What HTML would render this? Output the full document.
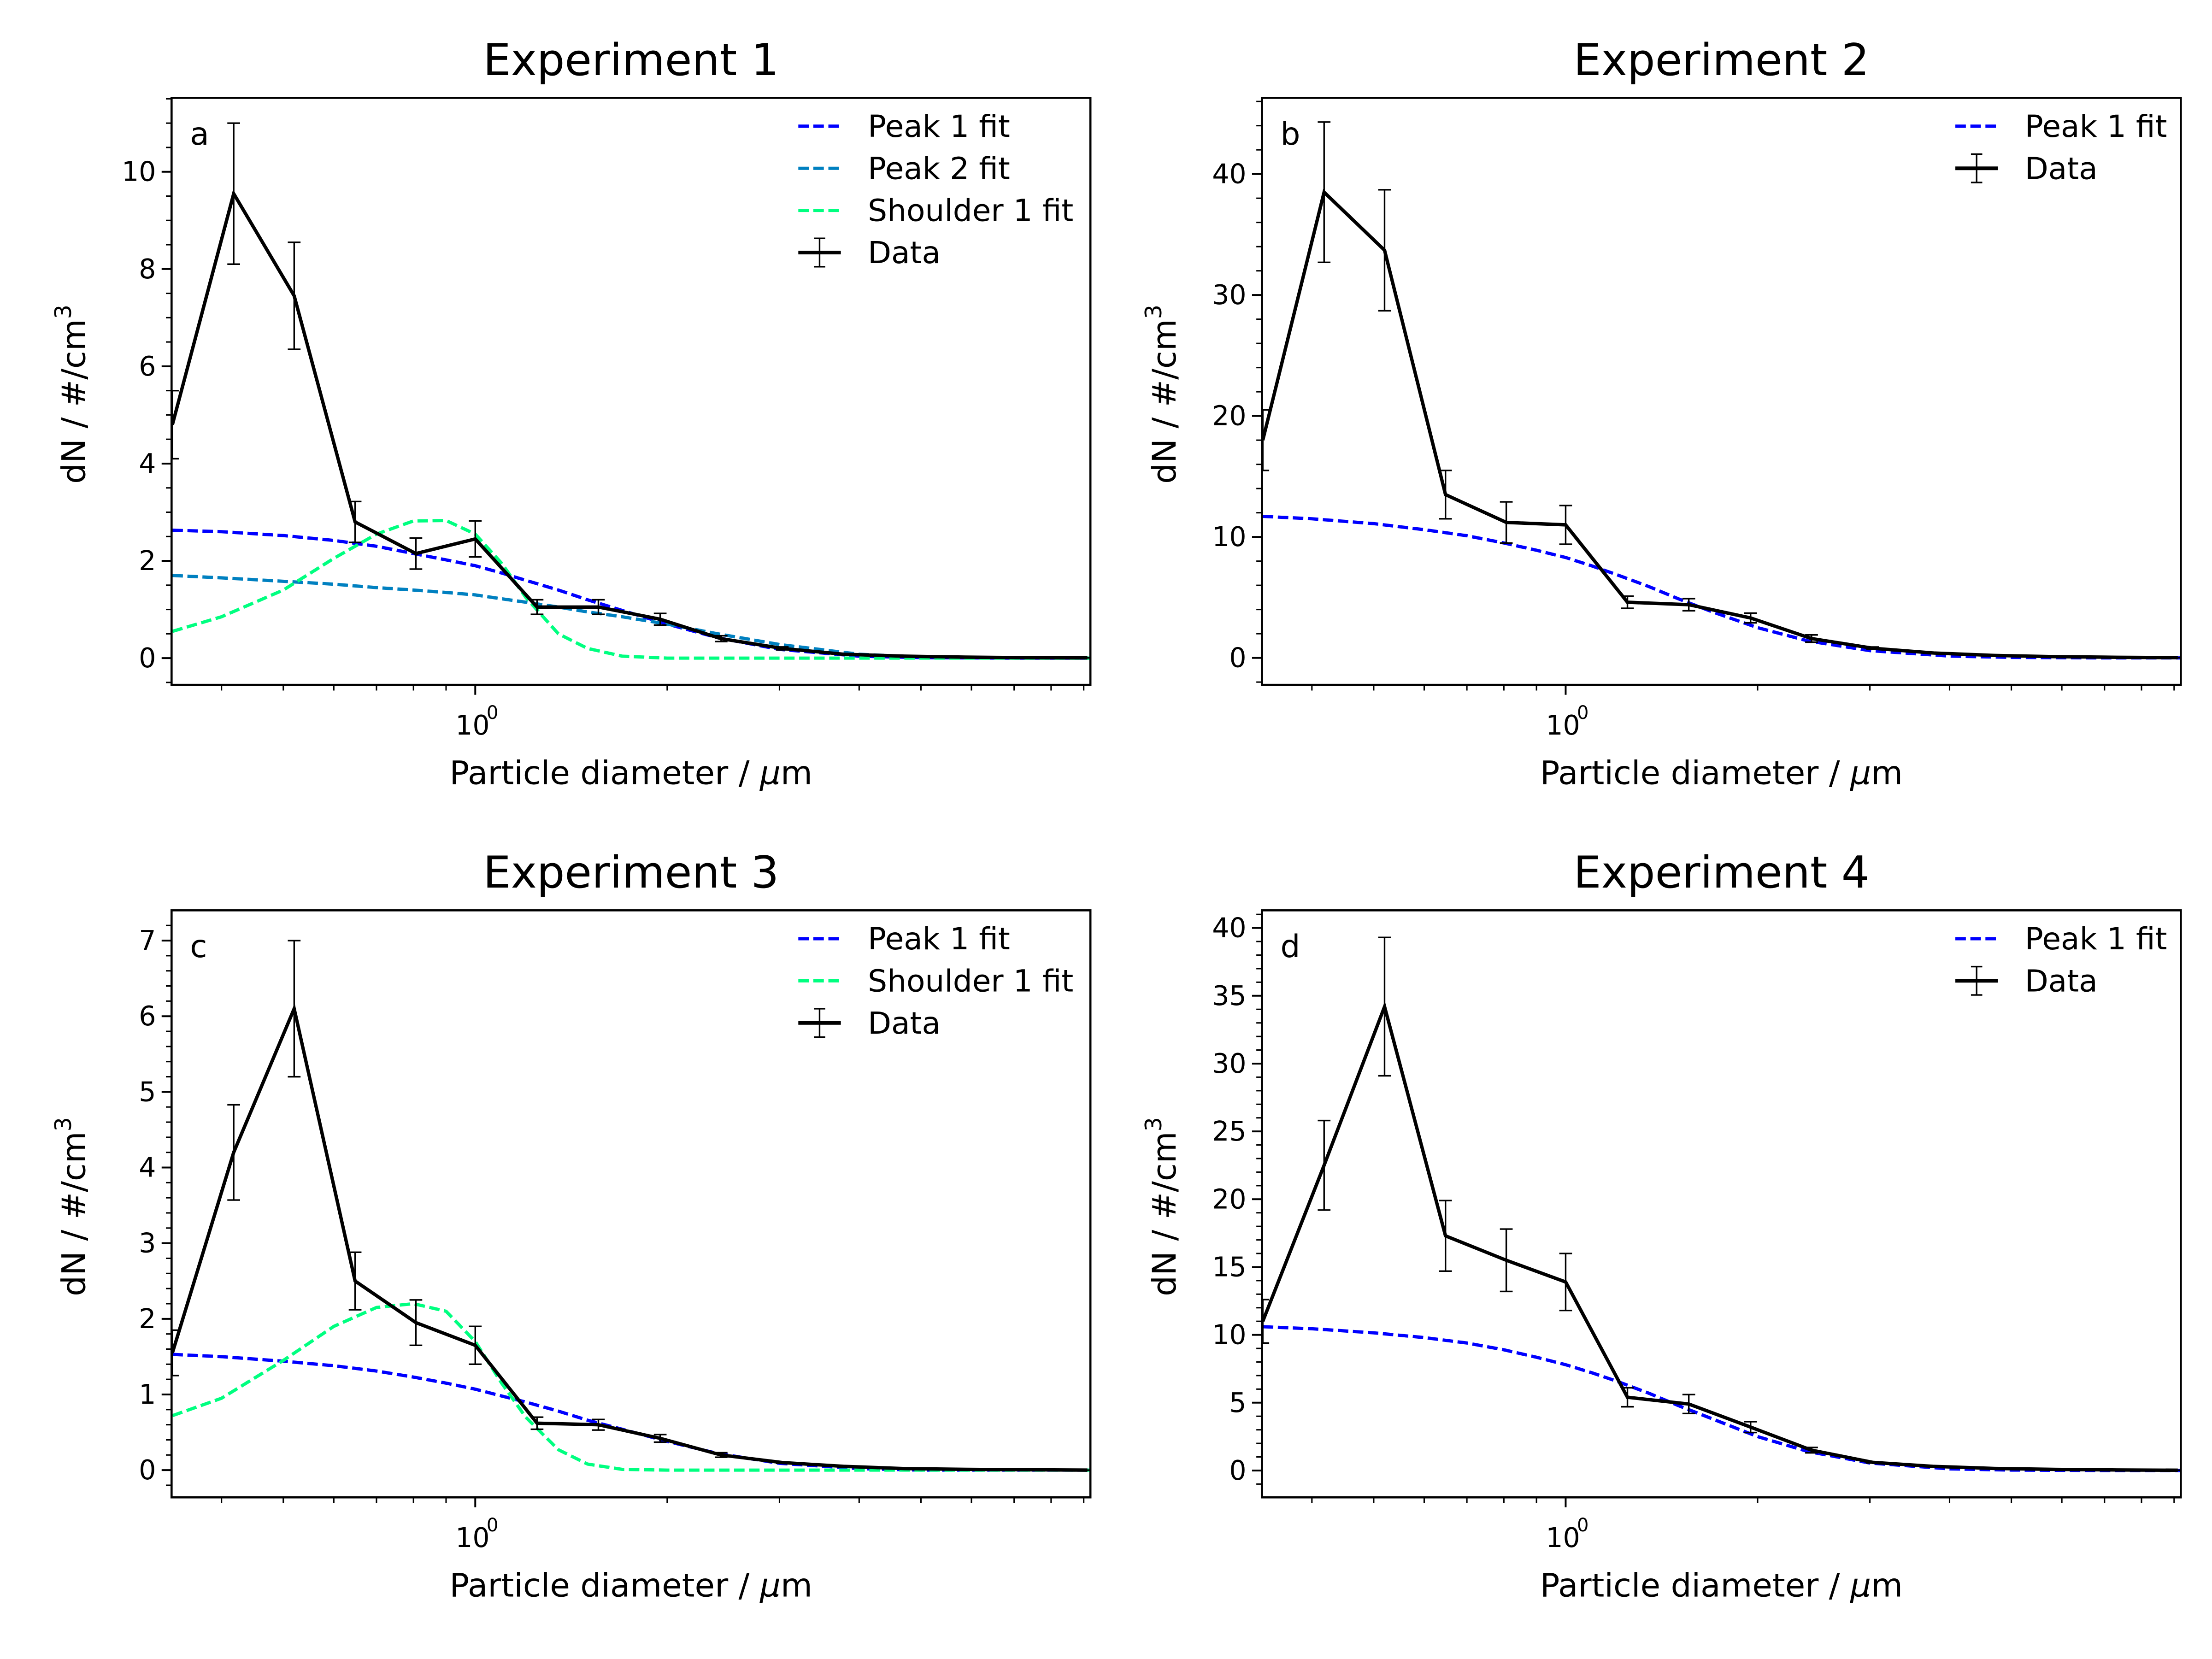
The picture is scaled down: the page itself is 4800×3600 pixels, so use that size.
<!DOCTYPE html>
<html><head><meta charset="utf-8">
<style>
html,body{margin:0;padding:0;background:#fff;}
svg{display:block;}
text{font-family:"DejaVu Sans","Liberation Sans",sans-serif;fill:#000;}
</style></head>
<body>
<svg id="fig" width="4800" height="3600" viewBox="0 0 1560 1170" xmlns="http://www.w3.org/2000/svg">
<rect width="1560" height="1170" fill="#fff"/>
</svg>
<script>
// ---- data ----
const dataX = [0.335,0.418,0.52,0.648,0.807,1.0,1.25,1.56,1.95,2.43,3.03,3.78,4.71,5.87,7.32,9.12];
const fitX = [0.335,0.4,0.5,0.6,0.7,0.8,0.9,1.0,1.1,1.2,1.35,1.5,1.7,2.0,2.4,3.0,4,5,7,9.2];

const expA_data = [4.8,9.55,7.45,2.8,2.15,2.45,1.05,1.05,0.8,0.4,0.2,0.08,0.04,0.02,0.01,0.005];
const expA_err  = [0.7,1.45,1.1,0.42,0.32,0.37,0.15,0.15,0.12,0.06,0.03,0.01,0.01,0,0,0];
const expA_peak1 = [2.63,2.6,2.52,2.42,2.3,2.15,2.02,1.9,1.75,1.6,1.4,1.2,0.98,0.7,0.42,0.18,0.04,0.01,0,0];
const expA_peak2 = [1.7,1.65,1.58,1.52,1.45,1.4,1.35,1.3,1.22,1.15,1.05,0.95,0.85,0.7,0.5,0.28,0.08,0.02,0,0];
const expA_shoulder = [0.55,0.85,1.4,2.05,2.55,2.82,2.83,2.55,1.95,1.25,0.5,0.2,0.04,0,0,0,0,0,0,0];

const expB_data = [18,38.5,33.7,13.5,11.2,11.0,4.6,4.4,3.3,1.6,0.8,0.4,0.2,0.1,0.05,0.02];
const expB_err  = [2.5,5.8,5.0,2.0,1.7,1.6,0.5,0.5,0.4,0.3,0.1,0.05,0.02,0,0,0];
const expB_peak1 = [11.7,11.5,11.1,10.6,10.1,9.5,8.9,8.3,7.6,6.9,5.9,4.9,3.8,2.5,1.4,0.6,0.15,0.04,0,0];

const expC_data = [1.55,4.2,6.1,2.5,1.95,1.65,0.62,0.6,0.42,0.2,0.1,0.05,0.02,0.01,0.005,0];
const expC_err  = [0.3,0.63,0.9,0.38,0.3,0.25,0.08,0.07,0.05,0.03,0.01,0,0,0,0,0];
const expC_peak1 = [1.53,1.5,1.44,1.38,1.31,1.23,1.15,1.07,0.98,0.9,0.78,0.66,0.54,0.38,0.22,0.09,0.02,0,0,0];
const expC_shoulder = [0.72,0.95,1.45,1.9,2.15,2.2,2.1,1.7,1.15,0.7,0.27,0.08,0.01,0,0,0,0,0,0,0];

const expD_data = [11,22.5,34.2,17.3,15.5,13.9,5.4,4.9,3.2,1.5,0.6,0.3,0.15,0.08,0.04,0.02];
const expD_err  = [1.6,3.3,5.1,2.6,2.3,2.1,0.7,0.7,0.4,0.2,0.05,0.02,0,0,0,0];
const expD_peak1 = [10.6,10.45,10.15,9.8,9.4,8.9,8.35,7.8,7.2,6.6,5.7,4.8,3.8,2.5,1.4,0.55,0.12,0.03,0,0];

const panels = [
 {id:'a',title:'Experiment 1',x0:121,y0:69,ymin:-0.55,ymax:11.52,major:2,ndiv:4,ticks:[0,2,4,6,8,10],data:expA_data,err:expA_err,
  fits:[{name:'Peak 1 fit',c:'#0000ff',v:expA_peak1},{name:'Peak 2 fit',c:'#0080c0',v:expA_peak2},{name:'Shoulder 1 fit',c:'#00ff80',v:expA_shoulder}]},
 {id:'b',title:'Experiment 2',x0:890,y0:69,ymin:-2.23,ymax:46.3,major:10,ndiv:5,ticks:[0,10,20,30,40],data:expB_data,err:expB_err,
  fits:[{name:'Peak 1 fit',c:'#0000ff',v:expB_peak1}]},
 {id:'c',title:'Experiment 3',x0:121,y0:642,ymin:-0.36,ymax:7.4,major:1,ndiv:5,ticks:[0,1,2,3,4,5,6,7],data:expC_data,err:expC_err,
  fits:[{name:'Peak 1 fit',c:'#0000ff',v:expC_peak1},{name:'Shoulder 1 fit',c:'#00ff80',v:expC_shoulder}]},
 {id:'d',title:'Experiment 4',x0:890,y0:642,ymin:-1.98,ymax:41.3,major:5,ndiv:5,ticks:[0,5,10,15,20,25,30,35,40],data:expD_data,err:expD_err,
  fits:[{name:'Peak 1 fit',c:'#0000ff',v:expD_peak1}]}
];

const W=648,H=414,XMIN=0.334,XMAX=9.22;
const NS='http://www.w3.org/2000/svg';
const fig=document.getElementById('fig');
function mk(tag,attrs,parent){const e=document.createElementNS(NS,tag);for(const k in attrs)e.setAttribute(k,attrs[k]);(parent||fig).appendChild(e);return e;}

panels.forEach(p=>{
  const g=mk('g',{});
  
  
  const sx=v=>p.x0+(Math.log10(v)-Math.log10(XMIN))/(Math.log10(XMAX)-Math.log10(XMIN))*W;
  const sy=v=>p.y0+H-(v-p.ymin)/(p.ymax-p.ymin)*H;
  const cl='clip'+p.id;
  const cp=mk('clipPath',{id:cl},g);mk('rect',{x:p.x0,y:p.y0,width:W,height:H},cp);
  const plot=mk('g',{'clip-path':'url(#'+cl+')'},g);
  p.fits.forEach(f=>{
    const pts=fitX.map((x,i)=>sx(x).toFixed(2)+','+sy(f.v[i]).toFixed(2)).join(' ');
    const l=mk('polyline',{points:pts,fill:'none',stroke:f.c,'stroke-width':2.3,'stroke-dasharray':'7.4,3.2'},plot);
    
    
  });
  const dpts=dataX.map((x,i)=>sx(x).toFixed(2)+','+sy(p.data[i]).toFixed(2)).join(' ');
  const dl=mk('polyline',{points:dpts,fill:'none',stroke:'#000','stroke-width':2.4},plot);
  
  
  dataX.forEach((x,i)=>{
    const X=sx(x),a=sy(p.data[i]-p.err[i]),b=sy(p.data[i]+p.err[i]);
    const eb=mk('path',{d:`M${X},${a}V${b}M${X-4.5},${a}H${X+4.5}M${X-4.5},${b}H${X+4.5}`,stroke:'#000','stroke-width':1.1,fill:'none'},plot);
    
    
  });
  const fr=mk('rect',{x:p.x0,y:p.y0,width:W,height:H,fill:'none',stroke:'#000','stroke-width':1.5},g);
  
  
  const step=p.major/p.ndiv;
  for(let v=Math.ceil(p.ymin/step)*step;v<=p.ymax;v+=step){
    const Y=sy(v);const isMaj=Math.abs(v/p.major-Math.round(v/p.major))<1e-6;
    mk('line',{x1:p.x0,x2:p.x0-(isMaj?7:4),y1:Y,y2:Y,stroke:'#000','stroke-width':isMaj?1.3:1},g);
  }
  p.ticks.forEach(v=>{
    const t=mk('text',{x:p.x0-11,y:sy(v)+6.5,'text-anchor':'end','font-size':19},g);t.textContent=v;
    
    
  });
  [0.4,0.5,0.6,0.7,0.8,0.9,2,3,4,5,6,7,8,9].forEach(v=>{const X=sx(v);mk('line',{x1:X,x2:X,y1:p.y0+H,y2:p.y0+H+4,stroke:'#000','stroke-width':1},g);});
  const X1=sx(1);mk('line',{x1:X1,x2:X1,y1:p.y0+H,y2:p.y0+H+7,stroke:'#000','stroke-width':1.3},g);
  const xt=mk('text',{x:X1-14,y:p.y0+H+35,'font-size':19},g);xt.textContent='10';
  
  
  mk('text',{x:X1+8,y:p.y0+H+24,'font-size':13},g).textContent='0';
  const xl=mk('text',{x:p.x0+W/2,y:p.y0+H+70,'text-anchor':'middle','font-size':23},g);
  xl.innerHTML='Particle diameter / <tspan font-style="italic">μ</tspan>m';
  
  
  const yl=mk('text',{x:0,y:0,'text-anchor':'middle','font-size':23,transform:`translate(${p.x0-61},${p.y0+H/2+2}) rotate(-90)`},g);
  yl.innerHTML='dN / #/cm<tspan dy="-10" font-size="16">3</tspan>';
  
  
  const ti=mk('text',{x:p.x0+W/2,y:p.y0-16,'text-anchor':'middle','font-size':31},g);ti.textContent=p.title;
  
  
  const lt=mk('text',{x:p.x0+13,y:p.y0+33,'font-size':22},g);lt.textContent=p.id;
  
  
  const entries=p.fits.map(f=>({name:f.name,c:f.c})).concat([{name:'Data',c:null}]);
  const lx=p.id==='a'||p.id==='c'?p.x0+442:p.x0+489,lty=p.y0+20;
  entries.forEach((e,i)=>{
    const Y=lty+i*29.7;
    const lg=mk('g',{},g);
    
    
    if(e.c){mk('line',{x1:lx,x2:lx+30,y1:Y,y2:Y,stroke:e.c,'stroke-width':2.3,'stroke-dasharray':'7.4,3.2'},lg);}
    else{mk('line',{x1:lx,x2:lx+30,y1:Y,y2:Y,stroke:'#000','stroke-width':2.6},lg);
      mk('path',{d:`M${lx+15},${Y-10}V${Y+10}M${lx+11},${Y-10}H${lx+19}M${lx+11},${Y+10}H${lx+19}`,stroke:'#000','stroke-width':1.1,fill:'none'},lg);}
    const t=mk('text',{x:lx+49,y:Y+7.5,'font-size':21.5},lg);t.textContent=e.name;
  });
});
</script>
</body></html>
